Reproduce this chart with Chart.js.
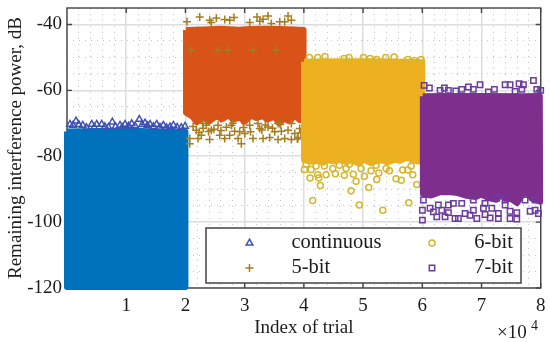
<!DOCTYPE html>
<html>
<head>
<meta charset="utf-8">
<style>
  html, body { margin: 0; padding: 0; background: #fff; }
  canvas { display: block; }
</style>
<script src="https://cdn.jsdelivr.net/npm/chart.js@4"></script>
</head>
<body>
<canvas id="trialChart" width="550" height="342"></canvas>
<script>
const seriesNames = ['continuous', '5-bit', '6-bit', '7-bit'];
const xTickLabels = ['1', '2', '3', '4', '5', '6', '7', '8'];
const yTickLabels = ['-120', '-100', '-80', '-60', '-40'];

// outline of the solid part of each cloud, too dense to read point by point
const continuousBodyX = [0, 3000, 7000, 11000, 15000, 20000, 20000, 0, 0];
const continuousBodyY = [-72.5, -72.4, -72.3, -72.3, -72.5, -72.6, -119.7, -119.7, -72.5];

const fiveBitBodyX = [20100, 23000, 26000, 29000, 31000, 33000, 36000, 38500, 39950, 39950, 39300, 38400, 37700, 36500, 35900, 35000, 33800, 33100, 31900, 31200, 29900, 29300, 28000, 27400, 26100, 25300, 23900, 23200, 21900, 21200, 20100, 20100];
const fiveBitBodyY = [-41.7, -41.5, -41.3, -41.6, -41.4, -41.3, -41.4, -41.5, -41.7, -68, -69, -67.6, -69.4, -68.6, -70, -68, -68.9, -67.8, -68.4, -67.6, -69.6, -68.2, -68.9, -67.5, -68.8, -67.8, -69.5, -68.2, -69.7, -68, -66.8, -41.7];

const sixBitBodyX = [40030, 46000, 52000, 58000, 60000, 60000, 59300, 58100, 57400, 56200, 55500, 54100, 53300, 52000, 51300, 50100, 49300, 48000, 47200, 46100, 45300, 44000, 43200, 42000, 41300, 40030, 40030];
const sixBitBodyY = [-51.3, -51.2, -51.2, -51.3, -51.5, -81, -81.6, -81, -80.4, -81.4, -81, -81.9, -81.2, -81.6, -82.1, -81, -82.2, -81.2, -81.8, -81, -81.6, -81.2, -82, -81, -81.7, -81.2, -51.3];

const sevenBitBodyX = [60100, 65000, 71000, 77000, 79850, 79900, 78500, 77800, 77000, 76000, 75000, 74000, 73200, 72500, 71000, 70000, 69000, 67500, 66000, 64500, 63000, 61500, 60100, 60100];
const sevenBitBodyY = [-61.8, -61.7, -61.7, -61.8, -61.7, -93.8, -92.9, -91.2, -91.5, -94.2, -93, -92.9, -91.8, -93.2, -92.6, -91.6, -92.4, -92, -91.2, -90.9, -90.9, -91.9, -91.5, -61.8];

// single markers that stand clear of the solid part
const continuousX = [500, 1520, 2650, 4170, 5020, 5860, 7650, 8950, 9800, 10930, 12210, 13180, 14020, 15150, 16270, 17960, 19930,
  1000, 2000, 3300, 4600, 6400, 7000, 8200, 9300, 10400, 11500, 12700, 13600, 14600, 15700, 16800, 17400, 18600, 19300];
const continuousY = [-70.3, -69.3, -70.6, -70.3, -70.3, -70.3, -69.6, -70.6, -70.3, -70.1, -68.8, -69.9, -70.3, -70.3, -70.6, -70.6, -70.9,
  -70.6, -70.4, -71.3, -71.2, -71, -71.2, -71, -71.2, -70.8, -70.8, -70.4, -70.7, -71, -71.2, -71.3, -71.1, -71.2, -71.3];

const fiveBitX = [20270, 22420, 24100, 25220, 24370, 26640, 27480, 28210, 30860, 32090, 32550, 33950, 33110, 34510, 35930, 37330, 37890, 36770,
  20950, 25510, 27200, 31420, 35300,
  20730, 20730, 21840, 22690, 22130, 24100, 24370, 25790, 26640, 27480, 28890, 29170, 29440, 31420, 32550, 33110, 34240, 35640, 36770, 37890, 39020, 37330, 38460, 35080, 25510, 23530, 27750, 30020, 30860, 32260, 33950, 35640, 37890, 39300,
  21300, 22300, 23000, 23900, 24800, 26000, 26900, 28300, 29800, 31000, 32900, 34700, 36200, 38900, 39500, 22900, 28000, 33500, 36000];
const fiveBitY = [-39.2, -37.7, -38.7, -38, -39.4, -38.5, -38.7, -37.9, -39.4, -37.7, -39, -37.4, -38.4, -39.7, -39.2, -37.4, -38.7, -39.2,
  -47.8, -47.8, -47.8, -47.8, -47.8,
  -76.2, -74.6, -72.1, -73.6, -74.6, -74.9, -72.1, -73.6, -74.6, -73.6, -74.6, -72.6, -76.2, -74.6, -71.6, -74.6, -74.3, -74.9, -74.6, -74.9, -74.3, -72.1, -73.1, -72.6, -70.6, -70.6, -70.6, -73.1, -70.6, -70.1, -71.1, -70.1, -70.1, -71.6,
  -71, -72.8, -71.5, -72.5, -71.8, -72.2, -71.2, -72.4, -71.3, -72.6, -72, -71.5, -72.4, -74.8, -72.9, -70, -70, -70.5, -70.4];

const sixBitX = [40930, 42340, 43580, 46790, 47640, 50050, 51180, 52310, 53830, 55240, 57550, 58670, 59800,
  40090, 41050, 42510, 42790, 41500, 42340, 43750, 45320, 46850, 48360, 50220, 48820, 47970, 50960, 49380, 52310, 53330, 54450, 55570, 56470, 57720, 58390, 59070, 56700, 52650, 51350, 41220, 44880, 47130, 49660, 57550, 40370, 42060, 43460, 46000, 47690, 52200, 53890, 58110];
const sixBitY = [-50, -50, -49.7, -50.3, -50, -50, -50.3, -50.6, -50, -49.9, -50.6, -50.9, -50.6,
  -84, -86.6, -86.6, -88.9, -93.4, -85.6, -85.6, -85.3, -85.8, -85.5, -86.1, -87.6, -90.5, -89.5, -94.8, -87.1, -96.4, -84.4, -86.8, -87.3, -94.1, -85.6, -88.6, -84.2, -85.1, -84.4, -84, -83.7, -83.7, -83.7, -84.2, -82.4, -83, -83, -82.7, -82.4, -82.7, -83.7, -83];

const sevenBitX = [60300, 61200, 63010, 63730, 64410, 65660, 66670, 67790, 68630, 69760, 71170, 72180, 73990, 74830, 76350, 77080, 78770, 79340, 76810, 75680, 80000,
  60020, 60020, 61320, 61880, 62450, 63290, 63850, 64410, 65540, 66100, 67230, 68070, 68630, 69210, 70320, 70610, 71450, 71740, 72850, 72850, 73990, 74830, 74830, 75960, 75960, 78210, 79050, 79610, 66670, 68630, 72580, 73990, 60190, 62720, 64410, 65250, 70610, 77360, 79050];
const sevenBitY = [-58.5, -59.3, -60, -59.3, -60, -60.2, -59.7, -59, -59.7, -58.3, -60.5, -59.7, -58.3, -58.3, -58, -58.3, -57, -59.7, -59.7, -60.3, -60,
  -96.4, -99.4, -95.8, -96.9, -98.4, -96.4, -98.4, -97.1, -98.9, -98.9, -97.4, -97.9, -96.4, -98.9, -95.8, -97.7, -98.7, -95.8, -97.4, -98.9, -94.8, -96.7, -98.9, -97.1, -99.1, -96.7, -96.4, -97.4, -94.3, -93.3, -92.8, -93.3, -93.3, -94.8, -94.8, -94.3, -94.3, -93.3, -93.3];

const bodyColors = ['#0072BD', '#D95319', '#EDB120', '#7E2F8E'];
const markerColors = ['#3F50B5', '#A67C1E', '#D6B62C', '#6C3B9E'];
const markerStyles = ['triangle', 'cross', 'circle', 'rect'];
const markerSizes = [3.8, 4, 3, 3.8];

const bodies = [[continuousBodyX, continuousBodyY], [fiveBitBodyX, fiveBitBodyY], [sixBitBodyX, sixBitBodyY], [sevenBitBodyX, sevenBitBodyY]];
const markers = [[continuousX, continuousY], [fiveBitX, fiveBitY], [sixBitX, sixBitY], [sevenBitX, sevenBitY]];

const toPoints = (xs, ys) => xs.map((x, i) => ({ x: x, y: ys[i] }));

const datasets = [];
seriesNames.forEach((name, i) => {
    // later series are painted over earlier ones, lower order is drawn last
    datasets.push({
        label: name + ' body',
        data: toPoints(bodies[i][0], bodies[i][1]),
        showLine: true,
        fill: 'shape',
        backgroundColor: bodyColors[i],
        borderColor: bodyColors[i],
        borderWidth: 6,
        borderJoinStyle: 'round',
        pointRadius: 0,
        clip: false,
        order: (3 - i) * 2 + 1
    });
    datasets.push({
        label: name,
        data: toPoints(markers[i][0], markers[i][1]),
        pointStyle: markerStyles[i],
        pointRadius: markerSizes[i],
        pointBorderColor: markerColors[i],
        pointBackgroundColor: 'rgba(0,0,0,0)',
        pointBorderWidth: 1.5,
        clip: false,
        order: (3 - i) * 2
    });
});

const textColor = '#1c1c1c';
const frameColor = '#444444';
const serif = '"Liberation Serif", serif';

// box, inward ticks: chart.js only draws ticks outside the area
const framePlugin = {
    id: 'frame',
    beforeDatasetsDraw(chart) {
        const { ctx, chartArea: a, scales } = chart;
        ctx.save();
        ctx.strokeStyle = frameColor;
        ctx.lineWidth = 1.4;
        ctx.strokeRect(a.left, a.top, a.right - a.left, a.bottom - a.top);
        ctx.beginPath();
        xTickLabels.forEach(t => {
            const px = scales.x.getPixelForValue(Number(t) * 10000);
            ctx.moveTo(px, a.top);
            ctx.lineTo(px, a.top + 5);
            ctx.moveTo(px, a.bottom);
            ctx.lineTo(px, a.bottom - 5);
        });
        yTickLabels.forEach(t => {
            const py = scales.y.getPixelForValue(Number(t));
            ctx.moveTo(a.left, py);
            ctx.lineTo(a.left + 5, py);
            ctx.moveTo(a.right, py);
            ctx.lineTo(a.right - 5, py);
        });
        ctx.stroke();
        ctx.restore();
    }
};

// two column legend sitting inside the axes, plus the x exponent
const legendPlugin = {
    id: 'insideLegend',
    afterDraw(chart) {
        const { ctx } = chart;
        ctx.save();
        ctx.fillStyle = '#fff';
        ctx.fillRect(206, 228, 315, 55);
        ctx.strokeStyle = frameColor;
        ctx.lineWidth = 1.5;
        ctx.strokeRect(206, 228, 315, 55);

        const rows = [[249.5, 243, 291.5, 'left'], [249.5, 268, 291.5, 'left'], [432, 243, 513, 'right'], [432, 268, 513, 'right']];
        seriesNames.forEach((name, i) => {
            const r = rows[i];
            ctx.strokeStyle = markerColors[i];
            ctx.fillStyle = 'rgba(0,0,0,0)';
            ctx.lineWidth = 1.5;
            Chart.helpers.drawPoint(ctx, { pointStyle: markerStyles[i], radius: markerSizes[i], rotation: 0, borderWidth: 1.5 }, r[0], r[1]);
            ctx.fillStyle = textColor;
            ctx.font = '20.5px ' + serif;
            ctx.textAlign = r[3];
            ctx.textBaseline = 'middle';
            ctx.fillText(name, r[2], r[1]);
        });

        ctx.fillStyle = textColor;
        ctx.textAlign = 'left';
        ctx.textBaseline = 'alphabetic';
        ctx.font = '19px ' + serif;
        ctx.fillText('×10', 497, 338);
        ctx.font = '14px ' + serif;
        ctx.fillText('4', 531, 330);
        ctx.restore();
    }
};

const majorX = v => v % 10000 === 0;
const majorY = v => v % 20 === 0;

// the label overhang would otherwise push the plot area inwards
const noScalePadding = s => {
    s.paddingTop = 0;
    s.paddingBottom = 0;
    s.paddingLeft = 0;
    s.paddingRight = 0;
};

new Chart(document.getElementById('trialChart'), {
    type: 'scatter',
    data: { datasets },
    plugins: [framePlugin, legendPlugin],
    options: {
        responsive: false,
        animation: false,
        layout: { padding: { top: 8, right: 9.3, bottom: 0, left: 0 } },
        plugins: { legend: { display: false }, tooltip: { enabled: false } },
        scales: {
            x: {
                type: 'linear',
                min: 0,
                max: 80000,
                afterFit: s => { s.height = 54; noScalePadding(s); },
                border: {
                    display: false,
                    dash: c => (c.tick && majorX(c.tick.value) ? [] : [1, 5])
                },
                grid: {
                    drawTicks: false,
                    color: c => (c.tick && majorX(c.tick.value) ? '#dddddd' : '#c4c4c4'),
                    lineWidth: c => (c.tick && majorX(c.tick.value) ? 1.5 : 1)
                },
                ticks: {
                    stepSize: 2000,
                    autoSkip: false,
                    maxRotation: 0,
                    padding: 7,
                    color: textColor,
                    font: { family: serif, size: 19 },
                    callback: v => (v > 0 && majorX(v) ? String(v / 10000) : '')
                },
                title: {
                    display: true,
                    text: 'Index of trial',
                    color: textColor,
                    font: { family: serif, size: 19 },
                    padding: { top: 0, bottom: 3 }
                }
            },
            y: {
                type: 'linear',
                min: -120,
                max: -35,
                afterFit: s => { s.width = 67; noScalePadding(s); },
                border: {
                    display: false,
                    dash: c => (c.tick && majorY(c.tick.value) ? [] : [1, 5])
                },
                grid: {
                    drawTicks: false,
                    color: c => (c.tick && majorY(c.tick.value) ? '#dddddd' : '#c4c4c4'),
                    lineWidth: c => (c.tick && majorY(c.tick.value) ? 1.5 : 1)
                },
                ticks: {
                    stepSize: 5,
                    autoSkip: false,
                    padding: 5,
                    color: textColor,
                    font: { family: serif, size: 19 },
                    callback: v => (majorY(v) ? String(v) : '')
                },
                title: {
                    display: true,
                    text: 'Remaining interference power, dB',
                    color: textColor,
                    font: { family: serif, size: 19 },
                    padding: { top: 5, bottom: 0 }
                }
            }
        }
    }
});
</script>
</body>
</html>
